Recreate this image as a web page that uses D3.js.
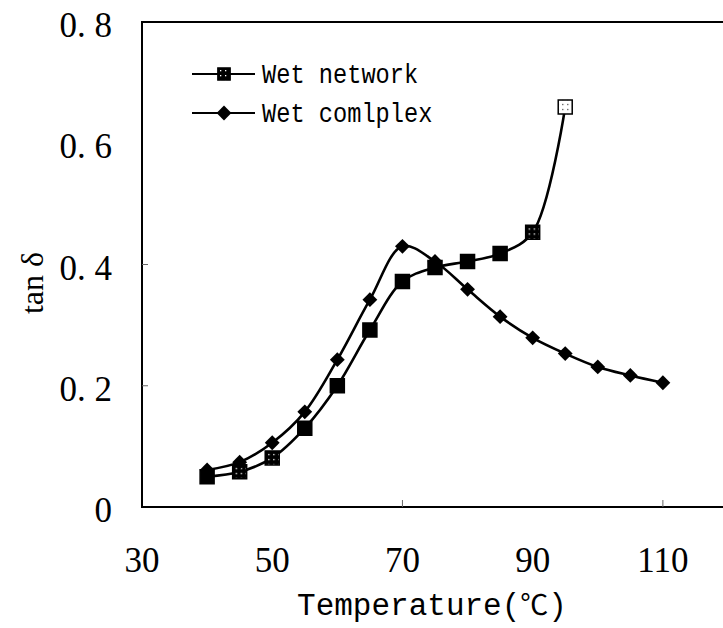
<!DOCTYPE html>
<html>
<head>
<meta charset="utf-8">
<script src="https://cdn.jsdelivr.net/npm/d3@7"></script>
<style>
  body { margin: 0; background: #fff; }
  svg { display: block; }
</style>
</head>
<body>
<div id="chart"></div>
<script>
/// Data ///
var temps = [40, 45, 50, 55, 60, 65, 70, 75, 80, 85, 90, 95, 100, 105, 110];
var wetNetwork = [0.050, 0.058, 0.081, 0.130, 0.200, 0.292, 0.372, 0.395, 0.405, 0.418, 0.453, 0.660];
var wetComplex = [0.061, 0.074, 0.106, 0.157, 0.243, 0.342, 0.430, 0.405, 0.359, 0.314, 0.279, 0.253, 0.231, 0.217, 0.205];
var xTicks = [30, 50, 70, 90, 110];
var yTicks = [0, 0.2, 0.4, 0.6, 0.8];
var seriesNames = ["Wet network", "Wet comlplex"];

/// SVG area ///
var svgWidth = 723;
var svgHeight = 628;

var svg = d3.select("#chart")
    .append("svg")
    .attr("width", svgWidth)
    .attr("height", svgHeight);

// patterns for the speckled network markers
var defs = svg.append("defs");
var speck = defs.append("pattern")
    .attr("id", "speckle")
    .attr("patternUnits", "userSpaceOnUse")
    .attr("width", 5).attr("height", 5);
speck.append("rect").attr("width", 5).attr("height", 5).attr("fill", "#000");
speck.append("rect").attr("x", 1).attr("y", 1).attr("width", 1.3).attr("height", 1.3).attr("fill", "#fff");
var hollow = defs.append("pattern")
    .attr("id", "hollow")
    .attr("patternUnits", "userSpaceOnUse")
    .attr("width", 5).attr("height", 5);
hollow.append("rect").attr("width", 5).attr("height", 5).attr("fill", "#fff");
hollow.append("rect").attr("x", 2).attr("y", 2).attr("width", 1.2).attr("height", 1.2).attr("fill", "#333");

/// Scales ///
var x = d3.scaleLinear().domain([30, 120]).range([142, 728]);
var y = d3.scaleLinear().domain([0, 0.8]).range([507, 22]);

// plot frame
svg.append("rect")
    .attr("x", x(30)).attr("y", y(0.8))
    .attr("width", x(120) - x(30)).attr("height", y(0) - y(0.8))
    .attr("fill", "none").attr("stroke", "#000").attr("stroke-width", 2);

// faint inner tick marks visible in the picture
svg.selectAll(".ytk").data([0.2, 0.4]).enter().append("line")
    .attr("x1", x(30)).attr("x2", x(30) + 6)
    .attr("y1", d => y(d)).attr("y2", d => y(d))
    .attr("stroke", "#666").attr("stroke-width", 1);
svg.selectAll(".xtk").data([70, 110]).enter().append("line")
    .attr("x1", d => x(d)).attr("x2", d => x(d))
    .attr("y1", y(0)).attr("y2", y(0) - 7)
    .attr("stroke", "#666").attr("stroke-width", 1);

/// Tick labels ///
var fmtY = d => d === 0 ? "0" : d.toFixed(1).replace(".", ". ");

svg.selectAll(".ylab").data(yTicks).enter().append("text")
    .attr("x", 112)
    .attr("y", d => y(d) + 15)
    .attr("text-anchor", "end")
    .attr("font-family", "Liberation Serif, serif")
    .attr("font-size", 35)
    .text(fmtY);

svg.selectAll(".xlab").data(xTicks).enter().append("text")
    .attr("x", d => x(d))
    .attr("y", 572)
    .attr("text-anchor", "middle")
    .attr("font-family", "Liberation Serif, serif")
    .attr("font-size", 35)
    .text(d => d);

/// Axis titles ///
svg.append("text")
    .attr("transform", "translate(43, 283) rotate(-90)")
    .attr("text-anchor", "middle")
    .attr("font-family", "Liberation Serif, serif")
    .attr("font-size", 32)
    .text("tan δ");

var xt = svg.append("text")
    .attr("x", 432).attr("y", 615)
    .attr("text-anchor", "middle")
    .attr("font-family", "Liberation Mono, monospace")
    .attr("font-size", 31);
xt.append("tspan").text("Temperature(");
xt.append("tspan").attr("font-family", "Noto Sans CJK SC").attr("font-size", 28).text("℃");
xt.append("tspan").text(")");

/// Lines ///
var line = d3.line()
    .x(d => x(d[0]))
    .y(d => y(d[1]))
    .curve(d3.curveCatmullRom.alpha(0.5));

var netPts = wetNetwork.map((v, i) => [temps[i], v]);
var cpxPts = wetComplex.map((v, i) => [temps[i], v]);

svg.append("path").datum(cpxPts).attr("d", line)
    .attr("fill", "none").attr("stroke", "#000").attr("stroke-width", 2.6);
svg.append("path").datum(netPts).attr("d", line)
    .attr("fill", "none").attr("stroke", "#000").attr("stroke-width", 2.6);

/// Markers ///
var squareSym = d3.symbol().type(d3.symbolSquare).size(196);
var diamondSym = d3.symbol().type(d3.symbolSquare).size(110);

function netFill(t) {
    if (t === 95) return "url(#hollow)";
    if (t === 45 || t === 50 || t === 90) return "url(#speckle)";
    return "#000";
}

svg.selectAll(".net").data(netPts).enter().append("path")
    .attr("d", squareSym)
    .attr("transform", d => `translate(${x(d[0])},${y(d[1])})`)
    .attr("fill", d => netFill(d[0]))
    .attr("stroke", "#000").attr("stroke-width", 1.5);

svg.selectAll(".cpx").data(cpxPts).enter().append("path")
    .attr("d", diamondSym)
    .attr("transform", d => `translate(${x(d[0])},${y(d[1])}) rotate(45)`)
    .attr("fill", "#000");

/// Legend ///
var legend = svg.append("g");
seriesNames.forEach(function (name, i) {
    var ly = 74 + i * 39;
    legend.append("line")
        .attr("x1", 192).attr("x2", 255).attr("y1", ly).attr("y2", ly)
        .attr("stroke", "#000").attr("stroke-width", 2);
    legend.append("path")
        .attr("d", i === 0 ? d3.symbol().type(d3.symbolSquare).size(150) : diamondSym)
        .attr("transform", i === 0 ? `translate(224,${ly})` : `translate(224,${ly}) rotate(45)`)
        .attr("fill", i === 0 ? "url(#speckle)" : "#000")
        .attr("stroke", "#000").attr("stroke-width", i === 0 ? 1.5 : 0);
    legend.append("text")
        .attr("x", 262).attr("y", ly + 9)
        .attr("font-family", "Liberation Mono, monospace")
        .attr("font-size", 28)
        .attr("textLength", name.length * 14.2)
        .attr("lengthAdjust", "spacingAndGlyphs")
        .text(name);
});
</script>
</body>
</html>
